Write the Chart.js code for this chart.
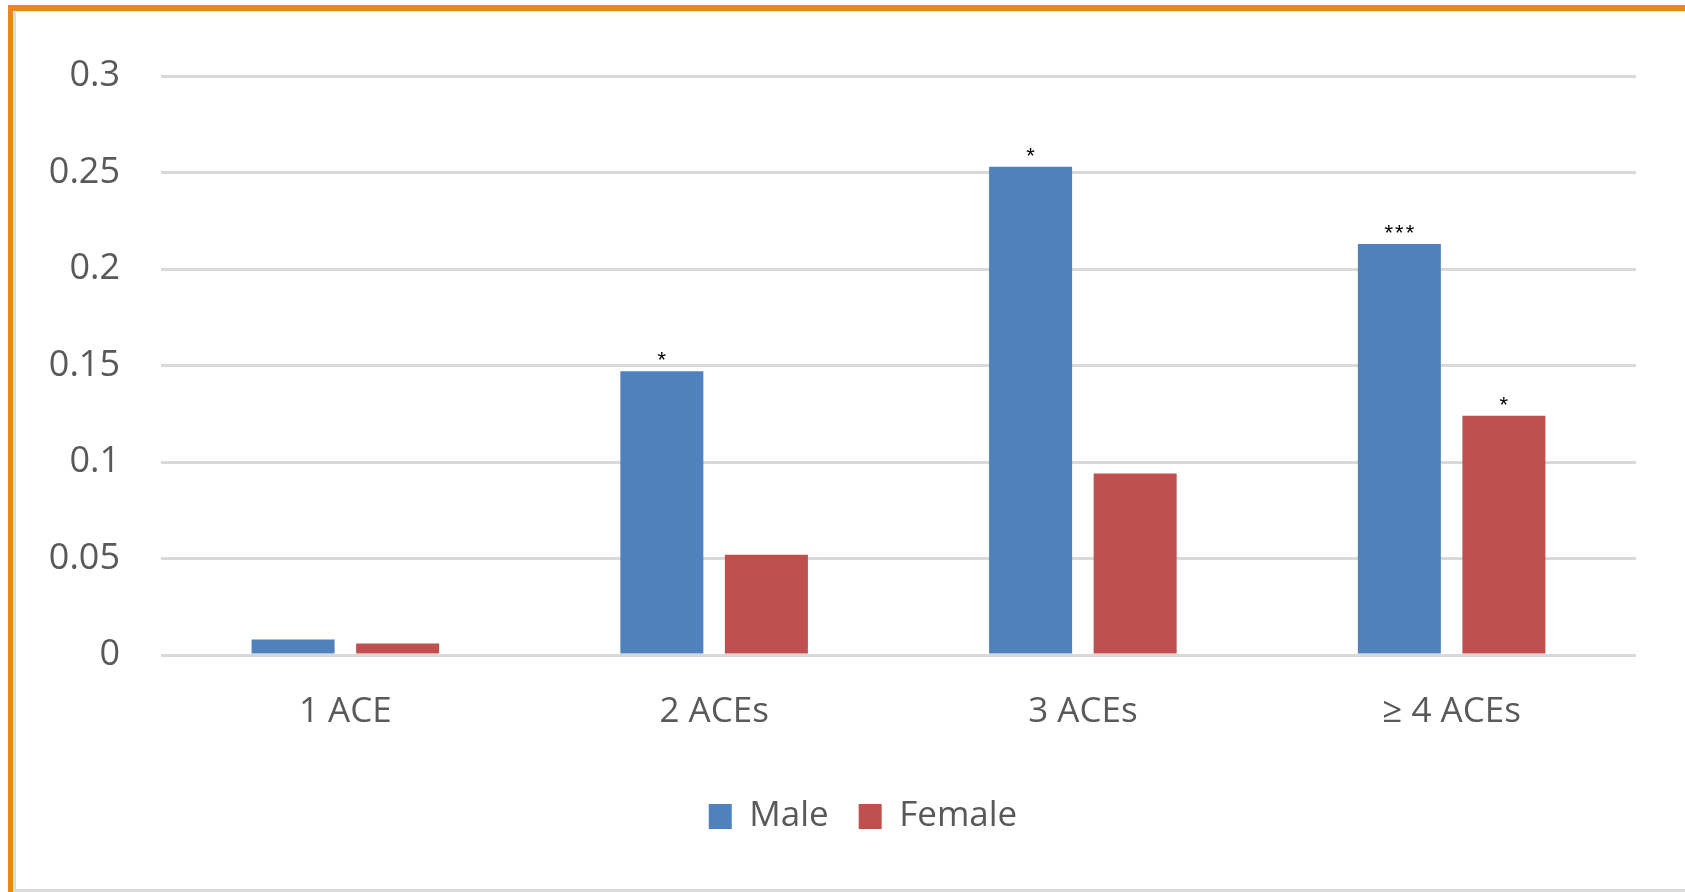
<!DOCTYPE html>
<html>
<head>
<meta charset="utf-8">
<script src="https://cdn.jsdelivr.net/npm/chart.js@4.4.1/dist/chart.umd.min.js"></script>
<style>
  html, body { margin: 0; padding: 0; background: #ffffff; }
  body { width: 1685px; height: 892px; position: relative; overflow: hidden; }
  .frame {
    position: absolute; left: 8px; top: 5px; right: 0; bottom: 0;
    border-top: 6px solid #E8871E; border-left: 5px solid #E8871E;
  }
  .frame-inner {
    position: absolute; left: 0; top: 0; right: 0; bottom: 0;
    border-left: 3px solid #DCDCDC; border-top: 1px solid #E6E6E6; border-bottom: 3px solid #DCDCDC;
  }
  #wrap { position: absolute; left: 0; top: 0; width: 1685px; height: 892px; }
</style>
</head>
<body>
<div class="frame"><div class="frame-inner"></div></div>
<div id="wrap"><canvas id="chart" width="1685" height="892"></canvas></div>
<script>
// Categories and series values
const categories = ['1 ACE', '2 ACEs', '3 ACEs', '\u2265 4 ACEs'];
const maleValues = [0.008, 0.147, 0.253, 0.213];
const femaleValues = [0.006, 0.052, 0.094, 0.124];
// Significance markers printed above each bar
const maleSig = ['', '*', '*', '***'];
const femaleSig = ['', '', '', '*'];
// Y axis tick labels
const yTickLabels = ['0', '0.05', '0.1', '0.15', '0.2', '0.25', '0.3'];

const textGray = '#595959';
const baseFont = '"Open Sans", "Liberation Sans", sans-serif';

// Draws the significance stars above the bars
const sigPlugin = {
  id: 'sigMarks',
  afterDatasetsDraw(chart) {
    const ctx = chart.ctx;
    const marks = [maleSig, femaleSig];
    ctx.save();
    ctx.fillStyle = '#000000';
    ctx.font = '22px "Liberation Sans", Arial, sans-serif';
    ctx.textAlign = 'center';
    ctx.textBaseline = 'alphabetic';
    if ('letterSpacing' in ctx) ctx.letterSpacing = '2px';
    chart.data.datasets.forEach((ds, di) => {
      const meta = chart.getDatasetMeta(di);
      meta.data.forEach((bar, i) => {
        const t = marks[di][i];
        if (t) ctx.fillText(t, bar.x + 1, bar.y - 4);
      });
    });
    ctx.restore();
  }
};

// Moves the legend a little to the right so it sits under the plot
const legendShift = {
  id: 'legendShift',
  afterLayout(chart) {
    const lg = chart.legend;
    if (lg) { lg.left += 45; lg.right += 45; }
  }
};

new Chart(document.getElementById('chart'), {
  type: 'bar',
  data: {
    labels: categories,
    datasets: [
      { label: 'Male', data: maleValues, backgroundColor: '#4F81BD', borderWidth: 0,
        categoryPercentage: 0.567, barPercentage: 0.794 },
      { label: 'Female', data: femaleValues, backgroundColor: '#C0504D', borderWidth: 0,
        categoryPercentage: 0.567, barPercentage: 0.794 }
    ]
  },
  options: {
    responsive: false,
    animation: false,
    devicePixelRatio: 1,
    layout: { padding: { left: 0, right: 49, top: 76, bottom: 48 } },
    plugins: {
      legend: {
        position: 'bottom',
        labels: {
          boxWidth: 23, boxHeight: 25, padding: 30,
          color: textGray,
          font: { family: baseFont, size: 35 }
        }
      },
      tooltip: { enabled: false },
      title: { display: false }
    },
    scales: {
      y: {
        min: 0, max: 0.3,
        border: { display: false },
        grid: { color: '#D9D9D9', lineWidth: 3, drawTicks: false },
        ticks: {
          stepSize: 0.05,
          padding: 41,
          color: textGray,
          font: { family: baseFont, size: 36 },
          callback: (v, i) => yTickLabels[i]
        },
        afterFit(scale) { scale.width = 161; }
      },
      x: {
        border: { display: false },
        grid: { display: false, drawTicks: false },
        ticks: {
          padding: 36,
          color: textGray,
          font: { family: baseFont, size: 35 }
        },
        afterFit(scale) { scale.height = 114; }
      }
    }
  },
  plugins: [sigPlugin, legendShift]
});
</script>
</body>
</html>
